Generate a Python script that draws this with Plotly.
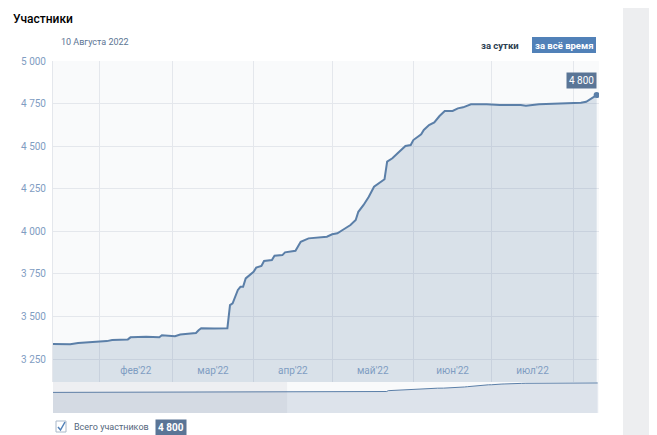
import pandas as pd
import plotly.graph_objects as go

# daily member counts (key points)
dates = ["2022-01-13", "2022-01-21", "2022-01-24", "2022-01-31", "2022-02-04", "2022-02-06",
         "2022-02-12", "2022-02-13", "2022-02-19", "2022-02-24", "2022-02-25", "2022-03-02",
         "2022-03-04", "2022-03-08", "2022-03-10", "2022-03-11", "2022-03-12", "2022-03-17",
         "2022-03-22", "2022-03-23", "2022-03-24", "2022-03-26", "2022-03-27", "2022-03-28",
         "2022-03-29", "2022-04-01", "2022-04-02", "2022-04-04", "2022-04-05", "2022-04-08",
         "2022-04-09", "2022-04-12", "2022-04-13", "2022-04-17", "2022-04-18", "2022-04-19",
         "2022-04-22", "2022-04-25", "2022-04-29", "2022-05-01", "2022-05-03", "2022-05-05",
         "2022-05-07", "2022-05-08", "2022-05-10", "2022-05-11", "2022-05-13", "2022-05-15",
         "2022-05-17", "2022-05-19", "2022-05-21", "2022-05-22", "2022-05-24", "2022-05-26",
         "2022-05-29", "2022-05-31", "2022-06-01", "2022-06-04", "2022-06-05", "2022-06-07",
         "2022-06-09", "2022-06-11", "2022-06-13", "2022-06-16", "2022-06-18", "2022-06-20",
         "2022-06-23", "2022-06-29", "2022-07-04", "2022-07-12", "2022-07-14", "2022-07-19",
         "2022-07-27", "2022-08-04", "2022-08-06", "2022-08-08", "2022-08-10"]
members = [3340, 3338, 3345, 3350, 3356, 3362,
           3366, 3378, 3381, 3378, 3390, 3385,
           3395, 3401, 3404, 3420, 3432, 3430,
           3432, 3567, 3578, 3656, 3675, 3675,
           3724, 3763, 3787, 3797, 3826, 3832,
           3857, 3861, 3877, 3886, 3914, 3939,
           3959, 3963, 3969, 3983, 3989, 4008,
           4027, 4037, 4067, 4115, 4155, 4203,
           4262, 4282, 4306, 4409, 4429, 4458,
           4501, 4507, 4536, 4570, 4595, 4624,
           4640, 4677, 4707, 4707, 4722, 4728,
           4746, 4746, 4742, 4742, 4738, 4746,
           4752, 4755, 4761, 4781, 4800]

# older history shown only in the navigator strip
history_dates = ["2021-08-10", "2021-09-15", "2021-10-15", "2021-11-15", "2021-12-15"]
history_members = [3290, 3300, 3310, 3320, 3330]

month_starts = ["2022-02-01", "2022-03-01", "2022-04-01", "2022-05-01",
                "2022-06-01", "2022-07-01", "2022-08-01"]
month_labels = ["фев'22", "мар'22", "апр'22", "май'22", "июн'22", "июл'22"]
y_ticks = [3250, 3500, 3750, 4000, 4250, 4500, 4750, 5000]

LINE = "#5b7fa8"
FILL = "rgba(90,125,165,0.2)"
GRID = "#e4e7ec"
TICK = "#7f9dc2"
FONT = "Roboto"

starts = pd.to_datetime(month_starts)
mid_months = [starts[i] + (starts[i + 1] - starts[i]) / 2 for i in range(len(month_labels))]
total = members[-1]
total_txt = f"{total:,}".replace(",", " ")

fig = go.Figure()
fig.add_trace(go.Scatter(x=dates, y=members, mode="lines", fill="tozeroy",
                         fillcolor=FILL, line=dict(color=LINE, width=2),
                         hoverinfo="skip"))
fig.add_trace(go.Scatter(x=[dates[-1]], y=[members[-1]], mode="markers",
                         marker=dict(color=LINE, size=6), hoverinfo="skip"))
fig.add_trace(go.Scatter(x=history_dates + dates, y=history_members + members,
                         mode="lines", fill="tozeroy", fillcolor="#dde3eb",
                         line=dict(color=LINE, width=1), xaxis="x2", yaxis="y2",
                         hoverinfo="skip"))


def px_x(x):
    # page pixel -> paper fraction (plot area spans 53..599)
    return (x - 53) / 546


def px_y(y):
    # page pixel -> paper fraction (plot area spans 61..413)
    return (413 - y) / 352


nav_top = 31 / 352
# page body has an 8px margin, so the figure starts at (8, 8) in the window
fig.update_layout(
    width=649, height=427,
    margin=dict(l=45, r=58, t=53, b=22),
    paper_bgcolor="white", plot_bgcolor="#f9fafb",
    showlegend=False, separators=", ",
    font=dict(family=FONT, size=10, color=TICK),
    xaxis=dict(range=["2022-01-14 10:00", "2022-08-10 21:30"], domain=[0, 1],
               anchor="y", tickmode="array", tickvals=mid_months, ticktext=month_labels,
               showgrid=False, ticks="", ticklabelposition="inside",
               ticklabelstandoff=3,
               tickfont=dict(size=10, color=TICK), zeroline=False, fixedrange=True,
               minor=dict(tickmode="array", tickvals=month_starts, showgrid=True,
                          gridcolor=GRID, gridwidth=1, ticks="")),
    yaxis=dict(range=[3116, 5000], domain=[nav_top, 1], tickmode="array",
               tickvals=y_ticks, tickformat=",d", gridcolor=GRID, zeroline=False,
               showline=True, linecolor=GRID, ticks="", ticklabelstandoff=4,
               tickfont=dict(size=10, color=TICK), fixedrange=True),
    xaxis2=dict(range=["2021-08-10 22:00", "2022-08-10 21:30"], domain=[0, 1],
                anchor="y2", visible=False, fixedrange=True),
    yaxis2=dict(range=[0, 4950], domain=[0, nav_top], visible=False, fixedrange=True),
)

# navigator: shade the part outside the selected period
fig.add_shape(type="rect", xref="x2", yref="paper", x0="2021-08-10 22:00",
              x1="2022-01-14 10:00", y0=0, y1=nav_top, line_width=0,
              fillcolor="rgba(110,120,140,0.08)", layer="above")

# grey side panel
fig.add_shape(type="rect", xref="paper", yref="paper", x0=px_x(623), x1=1.2,
              y0=-0.1, y1=1.2, line_width=0, fillcolor="#edeef0", layer="below")

# period switch
fig.add_shape(type="rect", xref="paper", yref="paper", x0=px_x(532), x1=px_x(596),
              y0=px_y(53), y1=px_y(37), line_width=0, fillcolor="#5181b8")
fig.add_annotation(xref="paper", yref="paper", x=px_x(564), y=px_y(45),
                   xanchor="center", yanchor="middle",
                   text="<b>за всё время</b>", showarrow=False,
                   font=dict(size=9.5, color="white"))
fig.add_annotation(xref="paper", yref="paper", x=px_x(500), y=px_y(45),
                   xanchor="center", yanchor="middle",
                   text="<b>за сутки</b>", showarrow=False,
                   font=dict(size=9.5, color="#2c3e50"))

fig.add_annotation(xref="paper", yref="paper", x=px_x(11), y=px_y(19),
                   xanchor="left", yanchor="middle", text="Участники", showarrow=False,
                   font=dict(size=12, color="#000000", weight=500))
fig.add_annotation(xref="paper", yref="paper", x=px_x(59), y=px_y(42),
                   xanchor="left", yanchor="middle", text="10 Августа 2022",
                   showarrow=False, font=dict(size=9, color="#5d7594"))

# value badge above the last point
fig.add_annotation(x=dates[-1], y=members[-1], xref="x", yref="y",
                   text=total_txt, showarrow=False, xanchor="right", yanchor="bottom",
                   xshift=0, yshift=6, bgcolor="#5a7596", borderpad=2,
                   font=dict(size=10, color="white"))

# legend row
fig.add_shape(type="rect", xref="paper", yref="paper", x0=px_x(56), x1=px_x(66),
              y0=px_y(432), y1=px_y(421),
              line=dict(color="#a9b8c9", width=1), fillcolor="white")
fig.add_shape(type="path", xref="paper", yref="paper",
              path=f"M {px_x(58)},{px_y(427)} L {px_x(60.5)},{px_y(430)} "
                   f"L {px_x(65)},{px_y(422)}",
              line=dict(color="#5181b8", width=1.5))
fig.add_annotation(xref="paper", yref="paper", x=px_x(72), y=px_y(427),
                   xanchor="left", yanchor="middle", text="Всего участников",
                   showarrow=False, font=dict(size=9, color="#55677d"))
fig.add_annotation(xref="paper", yref="paper", x=px_x(170.5), y=px_y(427),
                   xanchor="center", yanchor="middle",
                   text=f"<b>{total_txt}</b>", showarrow=False, bgcolor="#5a7596",
                   borderpad=2, font=dict(size=10, color="white"))

fig.write_html("out.html")
